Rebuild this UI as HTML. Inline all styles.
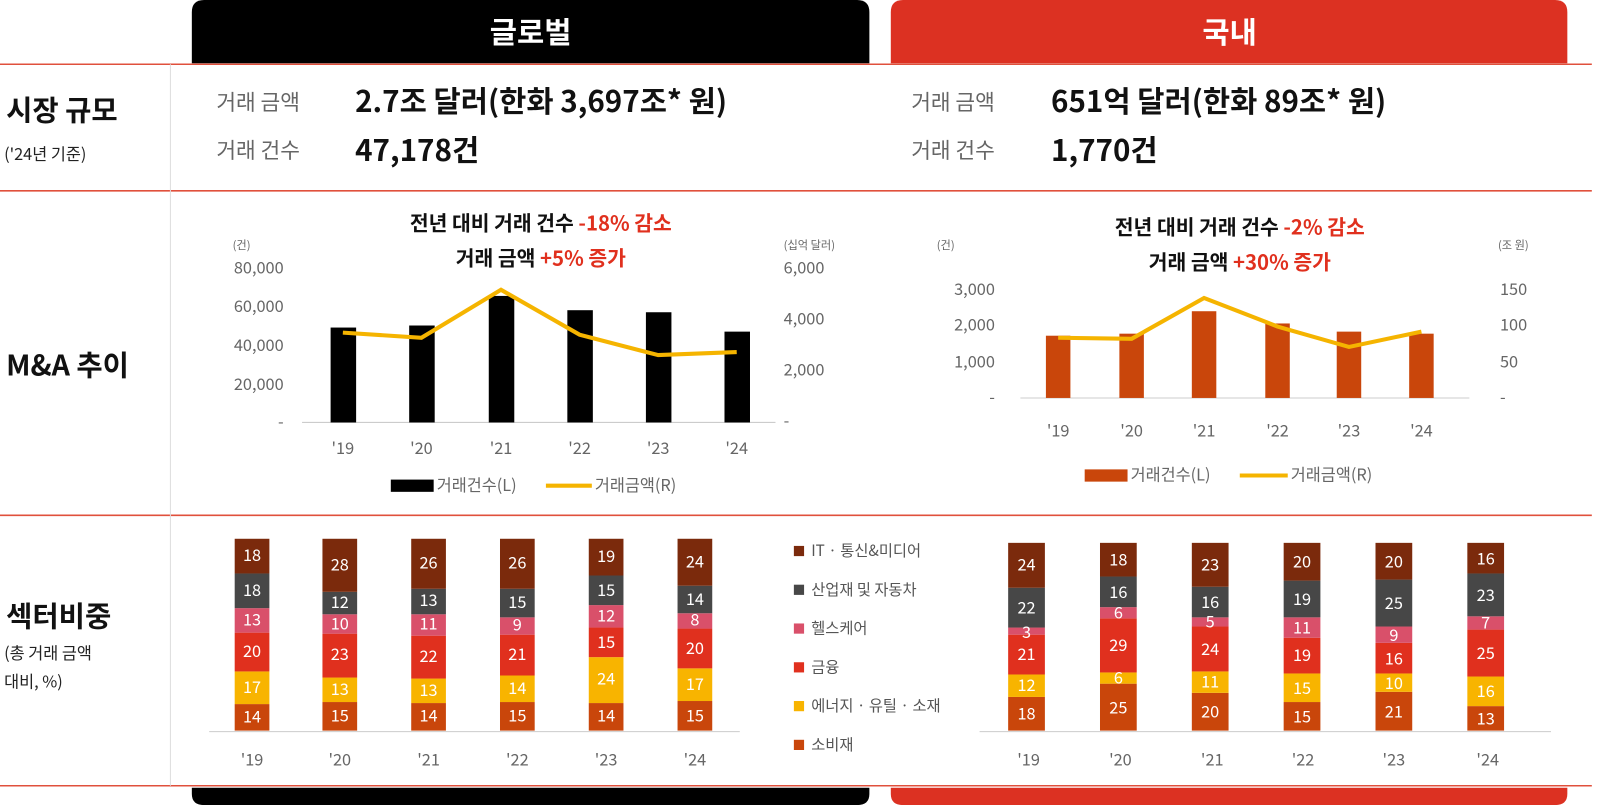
<!DOCTYPE html>
<html><head><meta charset="utf-8"><style>
html,body{margin:0;padding:0;background:#fff;width:1600px;height:805px;overflow:hidden}
#w{width:1568px;height:789px;transform:scale(1.0204);transform-origin:0 0;position:relative}
svg text{font-family:"Noto Sans CJK KR","Liberation Sans",sans-serif}
</style></head><body><div id="w">
<svg width="1568" height="789" viewBox="0 0 1568 789" xmlns="http://www.w3.org/2000/svg">
<path d="M188 62 V12 Q188 0 200 0 H840 Q852 0 852 12 V62 Z" fill="#000"/>
<path d="M873 62 V12 Q873 0 885 0 H1524 Q1536 0 1536 12 V62 Z" fill="#DC3122"/>
<text x="520" y="42" fill="#fff" font-size="29" font-weight="bold" text-anchor="middle">글로벌</text>
<text x="1205" y="42" fill="#fff" font-size="29" font-weight="bold" text-anchor="middle">국내</text>
<path d="M188 772 H852 V778 Q852 789 840 789 H200 Q188 789 188 778 Z" fill="#000"/>
<path d="M873 772 H1536 V778 Q1536 789 1524 789 H885 Q873 789 873 778 Z" fill="#DC3122"/>
<g stroke="#E0503C" stroke-width="1.5">
<line x1="0" y1="63" x2="1560" y2="63"/><line x1="0" y1="187" x2="1560" y2="187"/>
<line x1="0" y1="505" x2="1560" y2="505"/><line x1="0" y1="770" x2="1560" y2="770"/>
</g>
<line x1="167" y1="63" x2="167" y2="770" stroke="#ddd" stroke-width="1"/>
<g fill="#111" font-weight="bold" font-size="28">
<text x="6" y="118">시장 규모</text><text x="6" y="368">M&amp;A 추이</text><text x="6" y="614">섹터비중</text>
</g>
<g fill="#222" font-size="16"><text x="4" y="157">('24년 기준)</text><text x="4" y="646">(총 거래 금액</text><text x="4" y="674">대비, %)</text></g>
<g fill="#666" font-size="21"><text x="212" y="108">거래 금액</text><text x="212" y="155">거래 건수</text>
<text x="893" y="108">거래 금액</text><text x="893" y="155">거래 건수</text></g>
<g fill="#111" font-size="29" font-weight="bold"><text x="348" y="110">2.7조 달러(한화 3,697조* 원)</text><text x="348" y="158">47,178건</text>
<text x="1030" y="110">651억 달러(한화 89조* 원)</text><text x="1030" y="158">1,770건</text></g>
<g font-size="20" font-weight="bold" text-anchor="middle" fill="#111">
<text x="530" y="226">전년 대비 거래 건수 <tspan fill="#E0301E">-18% 감소</tspan></text>
<text x="530" y="260">거래 금액 <tspan fill="#E0301E">+5% 증가</tspan></text>
<text x="1215" y="230">전년 대비 거래 건수 <tspan fill="#E0301E">-2% 감소</tspan></text>
<text x="1215" y="264">거래 금액 <tspan fill="#E0301E">+30% 증가</tspan></text>
</g>
<g fill="#666" font-size="16">
<text x="228" y="244" font-size="11">(건)</text><text x="768" y="244" font-size="11">(십억 달러)</text>
<g text-anchor="end"><text x="278" y="268">80,000</text><text x="278" y="306">60,000</text><text x="278" y="344">40,000</text><text x="278" y="382">20,000</text><text x="278" y="419">-</text></g>
<text x="768" y="268">6,000</text><text x="768" y="318">4,000</text><text x="768" y="368">2,000</text><text x="768" y="418">-</text>
<g text-anchor="middle"><text x="336" y="445">'19</text><text x="413" y="445">'20</text><text x="491" y="445">'21</text><text x="568" y="445">'22</text><text x="645" y="445">'23</text><text x="722" y="445">'24</text></g>
<text x="428" y="481">거래건수(L)</text><text x="583" y="481">거래금액(R)</text>
</g>
<line x1="296" y1="414" x2="760" y2="414" stroke="#ccc"/>
<g fill="#000"><rect x="324" y="321" width="25" height="93"/><rect x="401" y="319" width="25" height="95"/><rect x="479" y="290" width="25" height="124"/><rect x="556" y="304" width="25" height="110"/><rect x="633" y="306" width="25" height="108"/><rect x="710" y="325" width="25" height="89"/></g>
<polyline points="336,326 413,331 491,284 568,328 645,348 722,345" fill="none" stroke="#F5B400" stroke-width="4"/>
<rect x="383" y="470" width="42" height="12" fill="#000"/><line x1="535" y1="476" x2="580" y2="476" stroke="#F5B400" stroke-width="4"/>
<g fill="#666" font-size="16">
<text x="918" y="244" font-size="11">(건)</text><text x="1468" y="244" font-size="11">(조 원)</text>
<g text-anchor="end"><text x="975" y="289">3,000</text><text x="975" y="324">2,000</text><text x="975" y="360">1,000</text><text x="975" y="395">-</text></g>
<text x="1470" y="289">150</text><text x="1470" y="324">100</text><text x="1470" y="360">50</text><text x="1470" y="395">-</text>
<g text-anchor="middle"><text x="1037" y="428">'19</text><text x="1109" y="428">'20</text><text x="1180" y="428">'21</text><text x="1252" y="428">'22</text><text x="1322" y="428">'23</text><text x="1393" y="428">'24</text></g>
<text x="1108" y="471">거래건수(L)</text><text x="1265" y="471">거래금액(R)</text>
</g>
<line x1="1000" y1="390" x2="1440" y2="390" stroke="#ccc"/>
<g fill="#C9460B"><rect x="1025" y="329" width="24" height="61"/><rect x="1097" y="327" width="24" height="63"/><rect x="1168" y="305" width="24" height="85"/><rect x="1240" y="317" width="24" height="73"/><rect x="1310" y="325" width="24" height="65"/><rect x="1381" y="327" width="24" height="63"/></g>
<polyline points="1037,331 1109,332 1180,292 1252,320 1322,340 1393,325" fill="none" stroke="#F5B400" stroke-width="4"/>
<rect x="1063" y="460" width="42" height="12" fill="#C9460B"/><line x1="1215" y1="466" x2="1262" y2="466" stroke="#F5B400" stroke-width="4"/>
<line x1="205" y1="717" x2="725" y2="717" stroke="#ccc"/>
<g>
<rect x="230" y="690" width="34" height="26" fill="#C9460B"/><rect x="230" y="658" width="34" height="32" fill="#F8B400"/><rect x="230" y="620" width="34" height="38" fill="#E0301E"/><rect x="230" y="596" width="34" height="24" fill="#D9506A"/><rect x="230" y="562" width="34" height="34" fill="#474747"/><rect x="230" y="528" width="34" height="34" fill="#7B2A0C"/>
<rect x="316" y="688" width="34" height="28" fill="#C9460B"/><rect x="316" y="664" width="34" height="24" fill="#F8B400"/><rect x="316" y="621" width="34" height="43" fill="#E0301E"/><rect x="316" y="602" width="34" height="19" fill="#D9506A"/><rect x="316" y="580" width="34" height="22" fill="#474747"/><rect x="316" y="528" width="34" height="52" fill="#7B2A0C"/>
<rect x="403" y="689" width="34" height="27" fill="#C9460B"/><rect x="403" y="665" width="34" height="24" fill="#F8B400"/><rect x="403" y="623" width="34" height="42" fill="#E0301E"/><rect x="403" y="602" width="34" height="21" fill="#D9506A"/><rect x="403" y="577" width="34" height="25" fill="#474747"/><rect x="403" y="528" width="34" height="49" fill="#7B2A0C"/>
<rect x="490" y="688" width="34" height="28" fill="#C9460B"/><rect x="490" y="662" width="34" height="26" fill="#F8B400"/><rect x="490" y="622" width="34" height="40" fill="#E0301E"/><rect x="490" y="605" width="34" height="17" fill="#D9506A"/><rect x="490" y="577" width="34" height="28" fill="#474747"/><rect x="490" y="528" width="34" height="49" fill="#7B2A0C"/>
<rect x="577" y="689" width="34" height="27" fill="#C9460B"/><rect x="577" y="644" width="34" height="45" fill="#F8B400"/><rect x="577" y="615" width="34" height="29" fill="#E0301E"/><rect x="577" y="593" width="34" height="22" fill="#D9506A"/><rect x="577" y="564" width="34" height="29" fill="#474747"/><rect x="577" y="528" width="34" height="36" fill="#7B2A0C"/>
<rect x="664" y="687" width="34" height="29" fill="#C9460B"/><rect x="664" y="655" width="34" height="32" fill="#F8B400"/><rect x="664" y="616" width="34" height="39" fill="#E0301E"/><rect x="664" y="601" width="34" height="15" fill="#D9506A"/><rect x="664" y="574" width="34" height="27" fill="#474747"/><rect x="664" y="528" width="34" height="46" fill="#7B2A0C"/>
</g>
<g fill="#fff" font-size="16" text-anchor="middle">
<text x="247" y="708">14</text><text x="247" y="679">17</text><text x="247" y="644">20</text><text x="247" y="613">13</text><text x="247" y="584">18</text><text x="247" y="550">18</text>
<text x="333" y="707">15</text><text x="333" y="681">13</text><text x="333" y="647">23</text><text x="333" y="617">10</text><text x="333" y="596">12</text><text x="333" y="559">28</text>
<text x="420" y="707">14</text><text x="420" y="682">13</text><text x="420" y="649">22</text><text x="420" y="617">11</text><text x="420" y="594">13</text><text x="420" y="557">26</text>
<text x="507" y="707">15</text><text x="507" y="680">14</text><text x="507" y="647">21</text><text x="507" y="618">9</text><text x="507" y="596">15</text><text x="507" y="557">26</text>
<text x="594" y="707">14</text><text x="594" y="671">24</text><text x="594" y="635">15</text><text x="594" y="609">12</text><text x="594" y="584">15</text><text x="594" y="551">19</text>
<text x="681" y="707">15</text><text x="681" y="676">17</text><text x="681" y="641">20</text><text x="681" y="613">8</text><text x="681" y="593">14</text><text x="681" y="556">24</text>
</g>
<g fill="#666" font-size="16" text-anchor="middle"><text x="247" y="750">'19</text><text x="333" y="750">'20</text><text x="420" y="750">'21</text><text x="507" y="750">'22</text><text x="594" y="750">'23</text><text x="681" y="750">'24</text></g>
<g font-size="15" fill="#555">
<rect x="778" y="535" width="10" height="10" fill="#7B2A0C"/><text x="795" y="545">IT · 통신&amp;미디어</text>
<rect x="778" y="573" width="10" height="10" fill="#474747"/><text x="795" y="583">산업재 및 자동차</text>
<rect x="778" y="611" width="10" height="10" fill="#D9506A"/><text x="795" y="621">헬스케어</text>
<rect x="778" y="649" width="10" height="10" fill="#E0301E"/><text x="795" y="659">금융</text>
<rect x="778" y="687" width="10" height="10" fill="#F8B400"/><text x="795" y="697">에너지 · 유틸 · 소재</text>
<rect x="778" y="725" width="10" height="10" fill="#C9460B"/><text x="795" y="735">소비재</text>
</g>
<line x1="960" y1="717" x2="1520" y2="717" stroke="#ccc"/>
<g>
<rect x="988" y="683" width="36" height="33" fill="#C9460B"/><rect x="988" y="661" width="36" height="22" fill="#F8B400"/><rect x="988" y="622" width="36" height="39" fill="#E0301E"/><rect x="988" y="615" width="36" height="7" fill="#D9506A"/><rect x="988" y="576" width="36" height="39" fill="#474747"/><rect x="988" y="532" width="36" height="44" fill="#7B2A0C"/>
<rect x="1078" y="670" width="36" height="46" fill="#C9460B"/><rect x="1078" y="659" width="36" height="11" fill="#F8B400"/><rect x="1078" y="606" width="36" height="53" fill="#E0301E"/><rect x="1078" y="595" width="36" height="11" fill="#D9506A"/><rect x="1078" y="565" width="36" height="30" fill="#474747"/><rect x="1078" y="532" width="36" height="33" fill="#7B2A0C"/>
<rect x="1168" y="679" width="36" height="37" fill="#C9460B"/><rect x="1168" y="658" width="36" height="21" fill="#F8B400"/><rect x="1168" y="614" width="36" height="44" fill="#E0301E"/><rect x="1168" y="605" width="36" height="9" fill="#D9506A"/><rect x="1168" y="575" width="36" height="30" fill="#474747"/><rect x="1168" y="532" width="36" height="43" fill="#7B2A0C"/>
<rect x="1258" y="688" width="36" height="28" fill="#C9460B"/><rect x="1258" y="660" width="36" height="28" fill="#F8B400"/><rect x="1258" y="625" width="36" height="35" fill="#E0301E"/><rect x="1258" y="605" width="36" height="20" fill="#D9506A"/><rect x="1258" y="569" width="36" height="36" fill="#474747"/><rect x="1258" y="532" width="36" height="37" fill="#7B2A0C"/>
<rect x="1348" y="678" width="36" height="38" fill="#C9460B"/><rect x="1348" y="660" width="36" height="18" fill="#F8B400"/><rect x="1348" y="630" width="36" height="30" fill="#E0301E"/><rect x="1348" y="614" width="36" height="16" fill="#D9506A"/><rect x="1348" y="568" width="36" height="46" fill="#474747"/><rect x="1348" y="532" width="36" height="36" fill="#7B2A0C"/>
<rect x="1438" y="692" width="36" height="24" fill="#C9460B"/><rect x="1438" y="663" width="36" height="29" fill="#F8B400"/><rect x="1438" y="617" width="36" height="46" fill="#E0301E"/><rect x="1438" y="604" width="36" height="13" fill="#D9506A"/><rect x="1438" y="562" width="36" height="42" fill="#474747"/><rect x="1438" y="532" width="36" height="30" fill="#7B2A0C"/>
</g>
<g fill="#fff" font-size="16" text-anchor="middle">
<text x="1006" y="705">18</text><text x="1006" y="677">12</text><text x="1006" y="647">21</text><text x="1006" y="625">3</text><text x="1006" y="601">22</text><text x="1006" y="559">24</text>
<text x="1096" y="699">25</text><text x="1096" y="670">6</text><text x="1096" y="638">29</text><text x="1096" y="606">6</text><text x="1096" y="586">16</text><text x="1096" y="554">18</text>
<text x="1186" y="703">20</text><text x="1186" y="674">11</text><text x="1186" y="642">24</text><text x="1186" y="615">5</text><text x="1186" y="596">16</text><text x="1186" y="559">23</text>
<text x="1276" y="708">15</text><text x="1276" y="680">15</text><text x="1276" y="648">19</text><text x="1276" y="621">11</text><text x="1276" y="593">19</text><text x="1276" y="556">20</text>
<text x="1366" y="703">21</text><text x="1366" y="675">10</text><text x="1366" y="651">16</text><text x="1366" y="628">9</text><text x="1366" y="597">25</text><text x="1366" y="556">20</text>
<text x="1456" y="710">13</text><text x="1456" y="683">16</text><text x="1456" y="646">25</text><text x="1456" y="616">7</text><text x="1456" y="589">23</text><text x="1456" y="553">16</text>
</g>
<g fill="#666" font-size="16" text-anchor="middle"><text x="1008" y="750">'19</text><text x="1098" y="750">'20</text><text x="1188" y="750">'21</text><text x="1277" y="750">'22</text><text x="1366" y="750">'23</text><text x="1458" y="750">'24</text></g>
</svg>
</div></body></html>
